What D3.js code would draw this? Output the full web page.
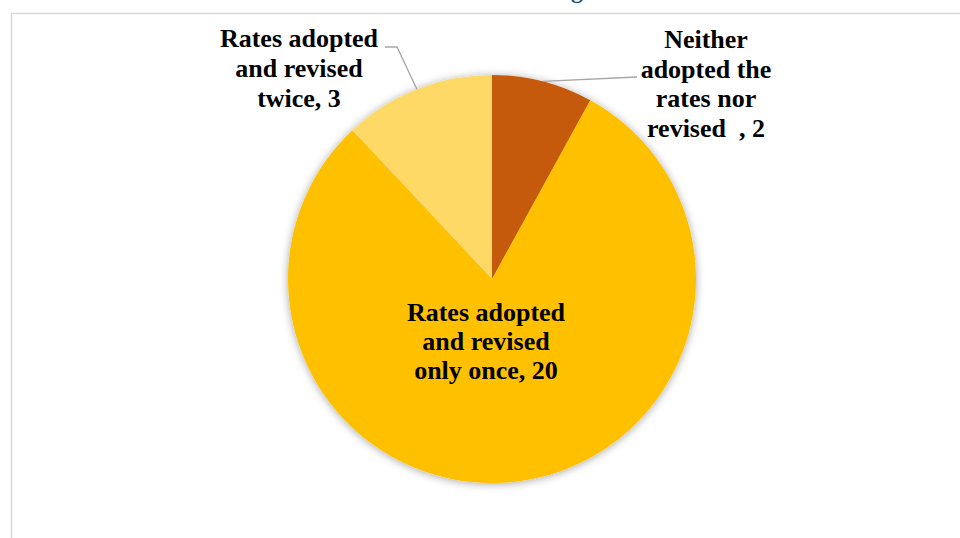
<!DOCTYPE html>
<html><head><meta charset="utf-8">
<script src="https://cdn.jsdelivr.net/npm/d3@7"></script>
<style>body{margin:0;background:#fff;}svg{display:block;}</style>
</head><body>
<svg id="chart" width="960" height="538"></svg>
<script>
const categories = ["Neither adopted the rates nor revised", "Rates adopted and revised only once", "Rates adopted and revised twice"];
const values = [2, 20, 3];
const colors = ["#C55A11", "#FFC000", "#FFD966"];
const labelLines = [
  ["Neither", "adopted the", "rates nor", "revised  , 2"],
  ["Rates adopted", "and revised", "only once, 20"],
  ["Rates adopted", "and revised", "twice, 3"]
];
const titleText = "Rate Setting";

const svg = d3.select("#chart");
const cx = 492, cy = 279, R = 204;
const FONT = "'Liberation Serif', 'Times New Roman', Times, serif";

// frame
svg.append("rect").attr("x", 11.5).attr("y", 13.5).attr("width", 1000).attr("height", 600)
  .attr("fill", "none").attr("stroke", "#d9d9d9").attr("stroke-width", 1.5);

// title (mostly off-screen, as in the reference)
svg.append("text").attr("x", 583).attr("y", -2).attr("text-anchor", "end")
  .style("font-family", FONT).attr("font-weight", "bold")
  .attr("font-size", 24).attr("fill", "#1F4E79").text(titleText);

const defs = svg.append("defs");
const f = defs.append("filter").attr("id", "sh").attr("x", "-20%").attr("y", "-20%").attr("width", "140%").attr("height", "140%");
f.append("feDropShadow").attr("dx", 0).attr("dy", 1).attr("stdDeviation", 4).attr("flood-color", "#000").attr("flood-opacity", 0.35);

const pie = d3.pie().sort(null).value(d => d);
const arcs = pie(values);
const arc = d3.arc().innerRadius(0).outerRadius(R);

const g = svg.append("g").attr("transform", `translate(${cx},${cy})`);
g.append("g").attr("filter", "url(#sh)")
  .selectAll("path").data(arcs).enter().append("path")
  .attr("d", arc).attr("fill", (d, i) => colors[i]);

// leader lines
const lineColor = "#a6a6a6";
function edgePoint(a, r) { return [Math.sin(a) * r, -Math.cos(a) * r]; }
{
  const a = arcs[0];
  const p = edgePoint((a.startAngle + a.endAngle) / 2, R);
  svg.append("polyline").attr("points", `${cx + p[0]},${cy + p[1]} 637,77`)
    .attr("fill", "none").attr("stroke", lineColor).attr("stroke-width", 1.3);
}
{
  const a = arcs[2];
  const p = edgePoint((a.startAngle + a.endAngle) / 2, R);
  svg.append("polyline").attr("points", `${cx + p[0]},${cy + p[1]} 397,47 385,47`)
    .attr("fill", "none").attr("stroke", lineColor).attr("stroke-width", 1.3);
}

const labelPos = [
  { x: 706, y: 48, dy: 29.7 },
  { x: 486, y: 321, dy: 29 },
  { x: 299, y: 47, dy: 30 }
];
labelLines.forEach((lines, i) => {
  const t = svg.append("text")
    .style("font-family", FONT)
    .attr("font-weight", "bold").attr("font-size", 26).attr("fill", "#000")
    .attr("text-anchor", "middle").style("white-space", "pre");
  lines.forEach((ln, j) => {
    t.append("tspan").attr("x", labelPos[i].x).attr("y", labelPos[i].y + j * labelPos[i].dy).text(ln);
  });
});
</script>
</body></html>
